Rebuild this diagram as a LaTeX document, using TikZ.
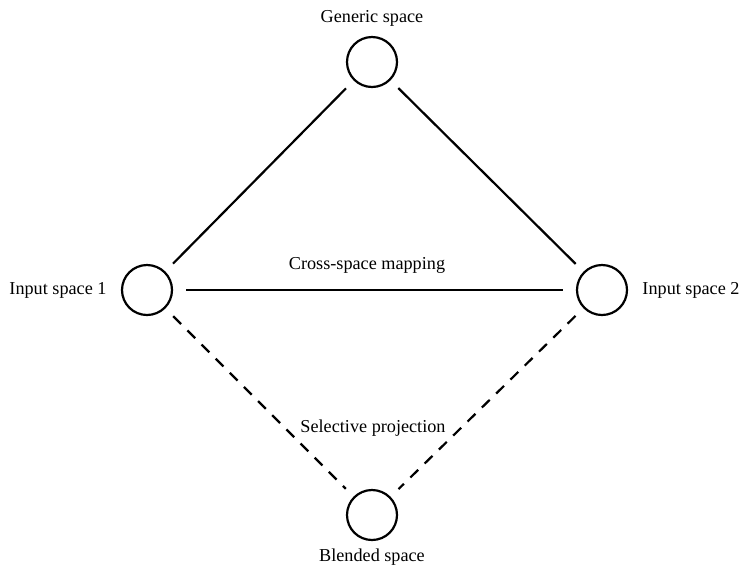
\documentclass[tikz,border=0pt]{standalone}
\usepackage{fontspec}
\setmainfont{Liberation Serif}
\begin{document}
\begin{tikzpicture}[x=1pt,y=-1pt,
  space/.style={circle,draw,line width=2.2pt,minimum size=50pt,inner sep=0pt},
  lbl/.style={inner sep=0pt,font=\fontsize{18.2}{20}\selectfont},
  link/.style={line width=2.2pt,shorten <=11pt,shorten >=11pt},
  proj/.style={link,dash pattern=on 11pt off 9pt}]
\useasboundingbox (0,0) rectangle (743,566);
\node[space] (g) at (372,62) {};
\node[space] (i1) at (147,290) {};
\node[space] (i2) at (602,290) {};
\node[space] (b) at (372,515) {};
\node[lbl] (tg) at (372,18) {Generic space};
\node[lbl] (t1) at (58,290) {Input space 1};
\node[lbl] (t2) at (691,290) {Input space 2};
\node[lbl] (tb) at (372,557) {Blended space};
\node[lbl] (tc) at (367,265) {Cross-space mapping};
\node[lbl] (tp) at (373,428) {Selective projection};
\draw[link] (g) -- (i1);
\draw[link] (g) -- (i2);
\draw[link,shorten <=13pt,shorten >=13pt] (i1) -- (i2);
\draw[proj] (i1) -- (b);
\draw[proj] (i2) -- (b);
\end{tikzpicture}
\end{document}
